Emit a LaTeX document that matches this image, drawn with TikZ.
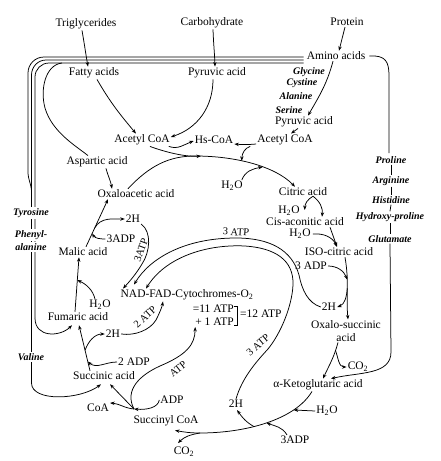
\documentclass[tikz,border=0pt]{standalone}
\usepackage{fontspec}
\setmainfont{Liberation Serif}
\usetikzlibrary{arrows.meta,calc}
\begin{document}
\begin{tikzpicture}[x=1pt,y=-1pt,
  lbl/.style={inner sep=1pt,font=\fontsize{11.5}{12.5}\selectfont},
  aa/.style={inner sep=1pt,font=\fontsize{10}{11}\selectfont\bfseries\itshape},
  rl/.style={inner sep=0.3pt,font=\fontsize{10.5}{11}\selectfont},
  ln/.style={line width=0.75pt},
  arr/.style={line width=0.75pt,-{Stealth[length=4.5pt,width=3.4pt]}},
  mask/.style={aa,fill=white,inner sep=1.5pt}]
\useasboundingbox[fill=white] (0,0) rectangle (441,461);

% ---------- nodes ----------
\node[lbl] (trig) at (86,24) {Triglycerides};
\node[lbl] (carb) at (212,23) {Carbohydrate};
\node[lbl] (prot) at (347,22) {Protein};
\node[lbl] (amino) at (336,56) {Amino acids};
\node[lbl] (fatty) at (94,73) {Fatty acids};
\node[lbl] (pyr1) at (217,73) {Pyruvic acid};
\node[aa] (gly) at (309,72) {Glycine};
\node[aa] (cys) at (302,83) {Cystine};
\node[aa] (ala) at (296,96) {Alanine};
\node[aa] (ser) at (289,110) {Serine};
\node[lbl] (pyr2) at (304,122) {Pyruvic acid};
\node[lbl] (acr) at (285,140) {Acetyl CoA};
\node[lbl] (hscoa) at (214,140) {Hs-CoA};
\node[lbl] (acl) at (142,140) {Acetyl CoA};
\node[lbl] (asp) at (97,162) {Aspartic acid};
\node[lbl] (oxa) at (136,194) {Oxaloacetic acid};
\node[lbl] (h2a) at (133,219) {2H};
\node[lbl] (adp3a) at (121,239) {3ADP};
\node[lbl] (malic) at (83,252) {Malic acid};
\node[rl,rotate=70] (atp3a) at (141,250) {3ATP};
\node[lbl] (nad) at (187,295) {NAD-FAD-Cytochromes-O\textsubscript{2}};
\node[lbl,anchor=east] (eq11) at (235,309) {=11 ATP};
\node[lbl,anchor=east] (p1) at (235,322) {+ 1 ATP};
\node[lbl,anchor=west] (eq12) at (239,314) {=12 ATP};
\node[lbl] (h2ol) at (100,305) {H\textsubscript{2}O};
\node[lbl] (fum) at (78,317) {Fumaric acid};
\node[lbl] (h2b) at (113,334) {2H};
\node[rl,rotate=43] (atp2) at (145,317) {2 ATP};
\node[lbl] (adp2) at (134,362) {2 ADP};
\node[lbl] (succ) at (104,376) {Succinic acid};
\node[rl,rotate=38] (atp1) at (178,369) {ATP};
\node[lbl] (adp) at (172,400) {ADP};
\node[lbl] (coa) at (98,408) {CoA};
\node[lbl] (sucoa) at (166,421) {Succinyl CoA};
\node[lbl] (co2b) at (184,452) {CO\textsubscript{2}};

\node[lbl] (h2o1) at (232,186) {H\textsubscript{2}O};
\node[lbl] (cit) at (303,192) {Citric acid};
\node[lbl] (h2o2) at (289,211) {H\textsubscript{2}O};
\node[lbl] (cis) at (305,222) {Cis-aconitic acid};
\node[lbl] (h2o3) at (300,234) {H\textsubscript{2}O};
\node[rl,rotate=-4] (atp3t) at (236,232) {3 ATP};
\node[lbl] (iso) at (339,252) {ISO-citric acid};
\node[lbl] (adp3b) at (311,266) {3 ADP};
\node[lbl] (h2c) at (329,307) {2H};
\node[lbl,align=center] (oxs) at (346,331) {Oxalo-succinic\\acid};
\node[lbl] (co2r) at (358,367) {CO\textsubscript{2}};
\node[lbl] (akg) at (318,385) {α-Ketoglutaric acid};
\node[lbl] (h2d) at (236,404) {2H};
\node[lbl] (h2o4) at (327,411) {H\textsubscript{2}O};
\node[lbl] (adp3c) at (295,440) {3ADP};
\node[rl,rotate=40] (atp3l) at (258,345) {3 ATP};

\node[aa] (prol) at (391,160) {Proline};
\node[aa] (arg) at (391,181) {Arginine};
\node[aa] (his) at (391,200) {Histidine};
\node[aa] (hyd) at (390,217) {Hydroxy-proline};
\node[aa] (glu) at (390,239) {Glutamate};

% ---------- left border lines ----------
\draw[ln] ($(amino.west)+(-2,1)$) -- (44,57) to[out=180,in=90] (28,73) -- (28,172) to[out=-90,in=90] (31.5,192);
\draw[ln] ($(amino.west)+(-2,4)$) -- (46,60) to[out=180,in=90] (31.5,75) -- (31.5,383) coordinate (vA);
\draw[ln] ($(amino.west)+(-2,7)$) -- (49,63) to[out=180,in=90] (35,77) -- (35,318) coordinate (vB);

\node[mask] (tyr) at (31,213) {Tyrosine};
\node[mask] (phen) at (31,235) {Phenyl-};
\node[mask] (alan) at (31,247) {alanine};
\node[mask] (val) at (31,357) {Valine};

\draw[ln] (62,63) .. controls (45,65) and (40,90) .. (45,108) .. controls (52,132) and (76,146) .. ([xshift=-9]asp.north);
\draw[arr] (vA) .. controls (31.5,402) and (80,400) .. ([xshift=-3,yshift=-3]succ.south);
\draw[arr] (vB) .. controls (35,338) and (60,337) .. ([xshift=-6,yshift=-3]fum.south);

% ---------- right amino acid line ----------
\draw[ln] ([xshift=3]amino.east) .. controls (386,55) and (389,62) .. (389,76) -- (389,153);
\draw[ln] (prol.south) -- (arg.north);
\draw[ln] (arg.south) -- (his.north);
\draw[ln] (his.south) -- (hyd.north);
\draw[ln] (hyd.south) -- (glu.north);
\draw[arr] (glu.south) -- (391,352) .. controls (391,375) and (360,372) .. ([xshift=13]akg.north);

% ---------- top inputs ----------
\draw[arr] ([xshift=-4]trig.south) to[out=-80,in=100] ([xshift=-6]fatty.north);
\draw[arr] ([xshift=1]carb.south) to[out=-88,in=92] ([xshift=-2]pyr1.north);
\draw[arr] ([xshift=-2]prot.south) -- ([xshift=3]amino.north);
\draw[arr] ([xshift=3]fatty.south) to[out=-60,in=130] ([xshift=-6]acl.north);
\draw[arr] ([xshift=-4]pyr1.south) to[out=-90,in=18] ([yshift=3]acl.east);
\draw[arr] ([xshift=-3]amino.south) to[out=-105,in=60] ([xshift=4]pyr2.north);
\draw[arr] ([xshift=-6]pyr2.south) -- ([xshift=6]acr.north);
\draw[arr] ([xshift=-2]acl.south east) to[out=-20,in=200] ([yshift=-1]hscoa.west);
\draw[arr] ([yshift=-4]acr.west) to[out=185,in=-5] ([yshift=-4]hscoa.east);

% ---------- oxaloacetic -> citric ----------
\draw[arr] ([xshift=-8]oxa.north) .. controls (150,165) and (170,156) .. (195,156)
  .. controls (235,156) and (275,166) .. ([xshift=-8]cit.north)
  coordinate[pos=0.05] (arcA) coordinate[pos=0.4] (arcB) coordinate[pos=0.6] (arcC);
\draw[arr] ([xshift=8]acl.south) .. controls (165,152) and (185,157) .. (arcA);
\draw[arr] ([xshift=-6]acr.south west) .. controls (245,148) and (242,153) .. (arcB);
\draw[arr] ([xshift=-2]h2o1.north east) to[out=70,in=190] (arcC);

% ---------- citric -> iso-citric ----------
\coordinate (cpk) at ([xshift=10,yshift=1]cit.south);
\draw[arr] (cpk) to[bend right=30] ([xshift=4,yshift=1]h2o2.east);
\draw[arr] (cpk) to[bend left=30] ([xshift=17]cis.north);
\draw[arr] ([xshift=1]h2o3.east) to[out=5,in=115] ([xshift=-2]iso.north);
\draw[arr] ([xshift=25]cis.south) -- ([xshift=-2]iso.north);

% ---------- iso-citric -> oxalo-succinic ----------
\draw[arr] ([xshift=6]iso.south) to[out=-80,in=95] coordinate[pos=0.35] (isoA) coordinate[pos=0.5] (isoB) ([xshift=2]oxs.north);
\draw[arr] (adp3b.east) to[out=0,in=110] (isoA);
\draw[arr] (isoB) to[out=-95,in=20] (h2c.east);

% ---------- the two 3 ATP arcs ----------
\draw[arr] (h2c.west) .. controls (308,303) and (302,290) .. (299,275)
  .. controls (292,250) and (270,238) .. (236,238)
  .. controls (185,238) and (150,258) .. ([xshift=-53,yshift=4]nad.north);
\draw[arr] (h2d.north) .. controls (242,378) and (256,362) .. (268,349)
  .. controls (281,333) and (292,306) .. (293,285)
  .. controls (294,260) and (275,248) .. (245,246)
  .. controls (205,244) and (165,258) .. ([xshift=-41]nad.north);
\draw[arr] (h2a.south east) .. controls (152,232) and (150,252) .. (142,264)
  .. controls (136,274) and (130,281) .. ([xshift=-64]nad.north);

% ---------- left side of cycle ----------
\draw[arr] ([xshift=9]asp.south) to[out=-75,in=100] ([xshift=-24]oxa.north);
\draw[arr] ([xshift=3]malic.north) -- coordinate[pos=0.28] (mA) coordinate[pos=0.4] (mB) ([xshift=-28]oxa.south);
\draw[arr] (adp3a.west) to[out=180,in=-60] (mA);
\draw[arr] (mB) to[out=60,in=180] (h2a.west);
\draw[arr] ([xshift=-3]fum.north) -- coordinate[pos=0.58] (fA) ([xshift=-4]malic.south);
\draw[arr] ([xshift=-5]h2ol.north) .. controls (93,290) and (86,284) .. (fA);
\draw[arr] ([xshift=-14]succ.north) -- coordinate[pos=0.2] (sA) coordinate[pos=0.45] (sB) ([xshift=1,yshift=-3]fum.south);
\draw[arr] (adp2.west) to[out=180,in=-40] (sA);
\draw[arr] (sB) to[out=70,in=180] (h2b.west);
\draw[arr] (h2b.east) .. controls (135,336) and (150,330) .. (156,320)
  .. controls (160,312) and (162,307) .. ([xshift=-24]nad.south);

% ---------- succinyl CoA ----------
\coordinate (j1) at (134,409);
\draw[arr] (j1) -- ([xshift=6,yshift=-3]succ.south);
\draw[arr] (j1) to[out=175,in=-5] (coa.north east);
\draw[arr] (adp.west) .. controls (158,408) and (146,410) .. (j1);
\draw[arr] (j1) .. controls (124,390) and (140,375) .. (160,366)
  .. controls (186,355) and (195,345) .. ([xshift=1]p1.south west);

% ---------- bracket ----------
\draw[ln] ([xshift=-1,yshift=-2]eq11.north east) -| ([xshift=2,yshift=2]p1.south east) -- ([xshift=-1,yshift=2]p1.south east);

% ---------- oxalo-succinic -> alpha-ketoglutaric -> succinyl CoA ----------
\draw[arr] ([xshift=-8]oxs.south) to[out=-105,in=65] coordinate[pos=0.2] (oA) ([xshift=5]akg.north);
\draw[arr] (oA) to[out=-70,in=180] (co2r.west);
\draw[arr] ([xshift=-6]akg.south) .. controls (295,420) and (245,433) .. (200,433)
  coordinate[pos=0.25] (k1) coordinate[pos=0.5] (k2) coordinate[pos=0.6] (k3) coordinate[pos=1] (j2)
  to[out=180,in=-10] ([xshift=9,yshift=-3]sucoa.south);
\draw[arr] (j2) to[out=190,in=45] ([xshift=-6,yshift=3]co2b.north);
\draw[arr] (h2o4.west) -- (k1);
\draw[arr] ([xshift=-8]adp3c.north) to[out=120,in=-20] (k2);
\draw[arr] (k3) to[out=150,in=-55] ([xshift=1,yshift=-1]h2d.south);

\end{tikzpicture}
\end{document}
